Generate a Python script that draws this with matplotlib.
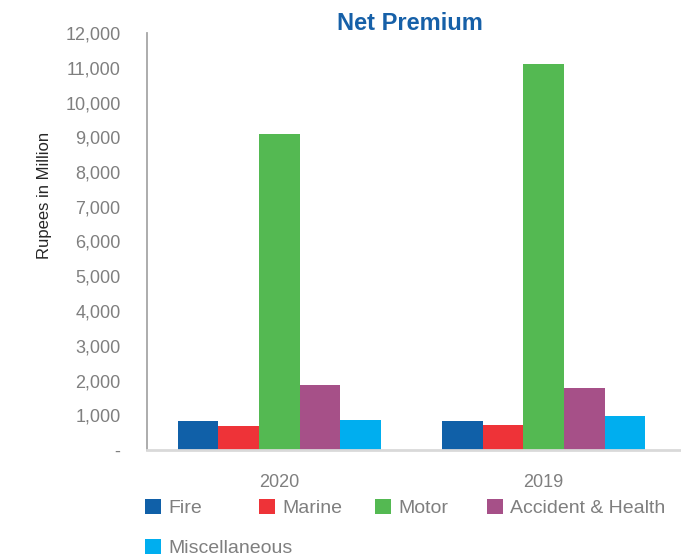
import matplotlib
matplotlib.use("Agg")
import matplotlib.pyplot as plt
import numpy as np

plt.rcParams['font.family'] = ['Liberation Sans', 'DejaVu Sans']

years = ['2020', '2019']
series = ['Fire', 'Marine', 'Motor', 'Accident & Health', 'Miscellaneous']
fire = [840, 840]
marine = [700, 730]
motor = [9080, 11100]
accident_health = [1880, 1790]
misc = [850, 980]
values = [fire, marine, motor, accident_health, misc]
colors = ['#1060A8', '#EE3338', '#54B952', '#A65088', '#00AEEF']

W, H = 681, 557
fig = plt.figure(figsize=(W / 100, H / 100), dpi=100)
ax = fig.add_axes([147 / W, 1 - 450 / H, (676 - 147) / W, (450 - 33) / H])

x = np.arange(len(years))
bw = 0.1535
bars = []
for i, (name, vals, c) in enumerate(zip(series, values, colors)):
    b = ax.bar(x + (i - 2) * bw, vals, width=bw, color=c, label=name)
    bars.append(b)

ax.set_xlim(-0.5, 1.5)
ax.set_ylim(0, 12000)
ax.set_yticks(range(0, 12001, 1000))
ax.set_yticklabels(['-' if v == 0 else f'{v:,}' for v in range(0, 12001, 1000)])
ax.set_xticks(x)
ax.set_xticklabels(years)

grey = '#7F7F7F'
ax.tick_params(axis='y', length=0, pad=19, labelsize=13, labelcolor=grey)
ax.tick_params(axis='x', length=0, pad=17, labelsize=13, labelcolor=grey)

for s in ['top', 'right']:
    ax.spines[s].set_visible(False)
ax.spines['left'].set_color('#A6A6A6')
ax.spines['left'].set_linewidth(1.3)
ax.spines['bottom'].set_color('#D9D9D9')
ax.spines['bottom'].set_linewidth(2)
ax.spines['bottom'].set_bounds(-0.5, 1.52)
ax.spines['bottom'].set_clip_on(False)

ax.set_ylabel('Rupees in Million', fontsize=12, color='#262626')
ax.yaxis.set_label_coords(-0.18, 0.611)
fig.text(410 / W, 1 - 24 / H, 'Net Premium', ha='center', va='center',
         fontsize=17, fontweight='bold', color='#1660A8')

# legend entries placed like the original (4 on first row, 1 on second)
leg_pos = [(145, 508), (259, 508), (375, 508), (487, 508), (145, 548)]
for b, name, (lx, ly) in zip(bars, series, leg_pos):
    leg = fig.legend([b], [name], loc='center left',
                     bbox_to_anchor=(lx / W, 1 - ly / H), frameon=False,
                     fontsize=14, handlelength=0.8, handleheight=0.8,
                     handletextpad=0.4, borderpad=0, borderaxespad=0)
    for t in leg.get_texts():
        t.set_color(grey)

fig.savefig('out.png', dpi=100)
